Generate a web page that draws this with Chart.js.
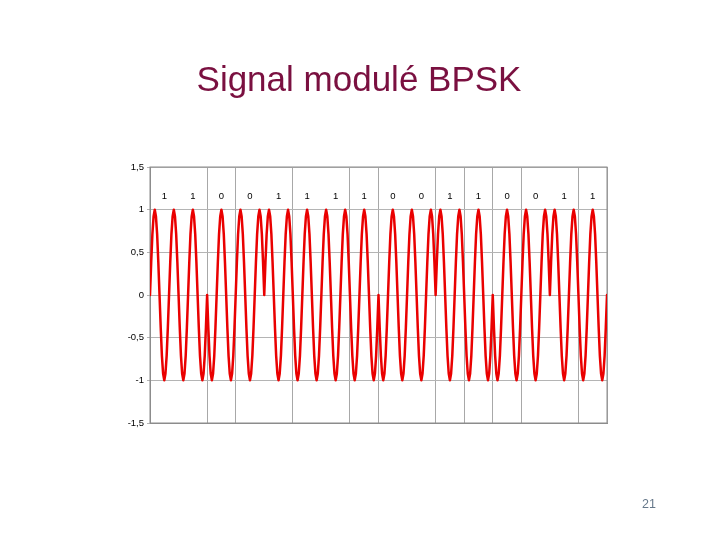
<!DOCTYPE html>
<html>
<head>
<meta charset="utf-8">
<script src="https://cdn.jsdelivr.net/npm/chart.js@4"></script>
<style>
  html, body { margin: 0; padding: 0; background: #ffffff; }
  #page { position: relative; width: 720px; height: 540px; overflow: hidden; }
  #chart { position: absolute; left: 0; top: 0; }
  #title {
    position: absolute; left: 0; top: 61px; width: 718px;
    text-align: center; font-family: 'Liberation Sans', Arial, sans-serif;
    font-size: 35px; line-height: 1; color: #7a1040;
  }
  #page-num {
    position: absolute; left: 642px; top: 498px;
    font-family: 'Liberation Sans', Arial, sans-serif;
    font-size: 12.5px; line-height: 1; color: #66788a;
  }
</style>
</head>
<body>
<div id="page">
  <canvas id="chart" width="720" height="540"></canvas>
  <div id="title">Signal modulé BPSK</div>
  <div id="page-num">21</div>
</div>
<script>
'use strict';

//Bits written above the signal
let bits = [1, 1, 0, 0, 1, 1, 1, 1, 0, 0, 1, 1, 0, 0, 1, 1];

//One period of the carrier, sample values
let carrier = [0, 0.38, 0.71, 0.92, 1, 0.92, 0.71, 0.38, 0, -0.38, -0.71, -0.92, -1, -0.92, -0.71, -0.38];

//Samples per bit (one bit = one and a half carrier periods)
let samplesPerBit = 24;

//Tick labels of the y axis
let yTicks = [-1.5, -1, -0.5, 0, 0.5, 1, 1.5];

//Where the vertical gridlines sit (in bits)
let xGrid = [0, 2, 3, 5, 7, 8, 10, 11, 12, 13, 15, 16];

//Build the points: carrier sample times +1 / -1 of the bit
let points = [];
for (let i = 0; i <= bits.length * samplesPerBit; i++) {
  let b = Math.min(Math.floor(i / samplesPerBit), bits.length - 1);
  let sign = bits[b] === 1 ? 1 : -1;
  let v = sign * carrier[i % carrier.length];
  points.push({ x: i / samplesPerBit, y: v === 0 ? 0 : v });
}

//Draws the frame round the plot and the bit labels
let bitLabels = {
  id: 'bitLabels',
  beforeDatasetsDraw(chart) {
    let a = chart.chartArea;
    let ctx = chart.ctx;
    ctx.save();
    ctx.strokeStyle = '#8c8c8c';
    ctx.lineWidth = 1;
    ctx.strokeRect(a.left, a.top, a.right - a.left, a.bottom - a.top);
    ctx.restore();
  },
  afterDatasetsDraw(chart) {
    let ctx = chart.ctx;
    let xs = chart.scales.x;
    let ys = chart.scales.y;
    ctx.save();
    ctx.fillStyle = '#000000';
    ctx.font = '9.5px "Liberation Sans", Arial, sans-serif';
    ctx.textAlign = 'center';
    ctx.textBaseline = 'middle';
    for (let k = 0; k < bits.length; k++) {
      ctx.fillText(String(bits[k]), xs.getPixelForValue(k + 0.5), ys.getPixelForValue(1.15));
    }
    ctx.restore();
  }
};

function renderChart() {
  const ctx = document.getElementById('chart').getContext('2d');
  const chart = new Chart(ctx, {
    type: 'line',
    data: {
      datasets: [{
        data: points,
        borderColor: '#ea0000',
        borderWidth: 2.5,
        borderJoinStyle: 'round',
        borderCapStyle: 'round',
        pointRadius: 0,
        tension: 0,
        fill: false
      }]
    },
    options: {
      responsive: false,
      animation: false,
      events: [],
      layout: {
        padding: { left: 110, right: 113, top: 167, bottom: 117 }
      },
      plugins: {
        legend: { display: false },
        tooltip: { enabled: false }
      },
      scales: {
        x: {
          type: 'linear',
          min: 0,
          max: bits.length,
          afterBuildTicks(scale) {
            scale.ticks = xGrid.map(v => ({ value: v }));
          },
          afterFit(scale) {
            scale.height = 0;
          },
          ticks: { display: false },
          grid: { color: '#a8a8a8', lineWidth: 1, drawTicks: false },
          border: { display: true, color: '#8c8c8c' }
        },
        y: {
          min: -1.5,
          max: 1.5,
          afterBuildTicks(scale) {
            scale.ticks = yTicks.map(v => ({ value: v }));
          },
          afterFit(scale) {
            scale.width = 40;
          },
          ticks: {
            color: '#000000',
            padding: 3,
            font: { family: '"Liberation Sans", Arial, sans-serif', size: 9.5 },
            callback: function (value) {
              return String(value).replace('.', ',');
            }
          },
          grid: { color: '#b4b4b4', lineWidth: 1, tickLength: 3 },
          border: { display: true, color: '#8c8c8c' }
        }
      }
    },
    plugins: [bitLabels]
  });
  return chart;
}

renderChart();
</script>
</body>
</html>
